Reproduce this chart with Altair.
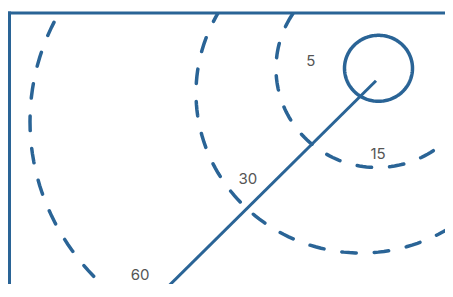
import altair as alt
import pandas as pd

# --- values (chart units) ---
# solid ring (current position)
ring_id = ["now"]
ring_cx = [369.5]
ring_cy = [55.8]
ring_rx = [34]
ring_ry = [33]

# dashed contours
contour_id = ["inner", "middle", "outer"]
contour_cx = [368, 352, 270.5]
contour_cy = [56, 80.5, 109]
contour_rx = [101, 165, 249.5]
contour_ry = [99, 160, 232]

# track line
track_x = [367, 143.5]
track_y = [68.2, 289.5]

# labels
label_text = ["5", "15", "30", "60"]
label_x = [301.7, 369, 238.8, 131]
label_y = [53.3, 146.3, 171.6, 267.3]

BLUE = "#2a6496"
W, H = 436, 271.5
xs = alt.Scale(domain=[0, W], nice=False, zero=False)
ys = alt.Scale(domain=[0, H], reverse=True, nice=False, zero=False)

x_axis = alt.Axis(orient="top", ticks=False, labels=False, grid=False)
y_axis = alt.Axis(orient="left", ticks=False, labels=False, grid=False)


def X(field):
    return alt.X(field, scale=xs, axis=x_axis, title="")


def Y(field):
    return alt.Y(field, scale=ys, axis=y_axis, title="")


ring_df = pd.DataFrame({"id": ring_id, "cx": ring_cx, "cy": ring_cy, "rx": ring_rx, "ry": ring_ry})
contour_df = pd.DataFrame({"id": contour_id, "cx": contour_cx, "cy": contour_cy, "rx": contour_rx, "ry": contour_ry})
track_df = pd.DataFrame({"x": track_x, "y": track_y, "o": list(range(len(track_x)))})
label_df = pd.DataFrame({"t": label_text, "x": label_x, "y": label_y})


def ellipse_layer(df, **mark_kw):
    return (
        alt.Chart(df)
        .transform_calculate(angle="sequence(0, 361, 2)")
        .transform_flatten(["angle"])
        .transform_calculate(
            px="datum.cx + datum.rx * cos(datum.angle * PI / 180)",
            py="datum.cy + datum.ry * sin(datum.angle * PI / 180)",
        )
        .mark_line(color=BLUE, clip=True, **mark_kw)
        .encode(x=X("px:Q"), y=Y("py:Q"), detail="id:N", order="angle:Q")
    )


contours = ellipse_layer(contour_df, strokeWidth=3.5, strokeDash=[14.5, 18], strokeCap="round")
ring = ellipse_layer(ring_df, strokeWidth=3.5)

track = (
    alt.Chart(track_df)
    .mark_line(color=BLUE, strokeWidth=3, clip=True)
    .encode(x=X("x:Q"), y=Y("y:Q"), order="o:Q")
)

labels = (
    alt.Chart(label_df)
    .mark_text(font="Inter", fontSize=15, color="#555555", baseline="alphabetic", align="center")
    .encode(x=X("x:Q"), y=Y("y:Q"), text="t:N")
)

chart = (
    alt.layer(contours, ring, track, labels)
    .properties(
        width=W,
        height=H,
        padding={"left": 1, "top": 4.5, "right": 0, "bottom": 0},
        autosize="none",
    )
    .configure_view(strokeWidth=0)
    .configure_axis(domainColor=BLUE, domainWidth=3, domainCap="square")
)

chart.save("out.html", embed_options={"renderer": "svg", "actions": False})
